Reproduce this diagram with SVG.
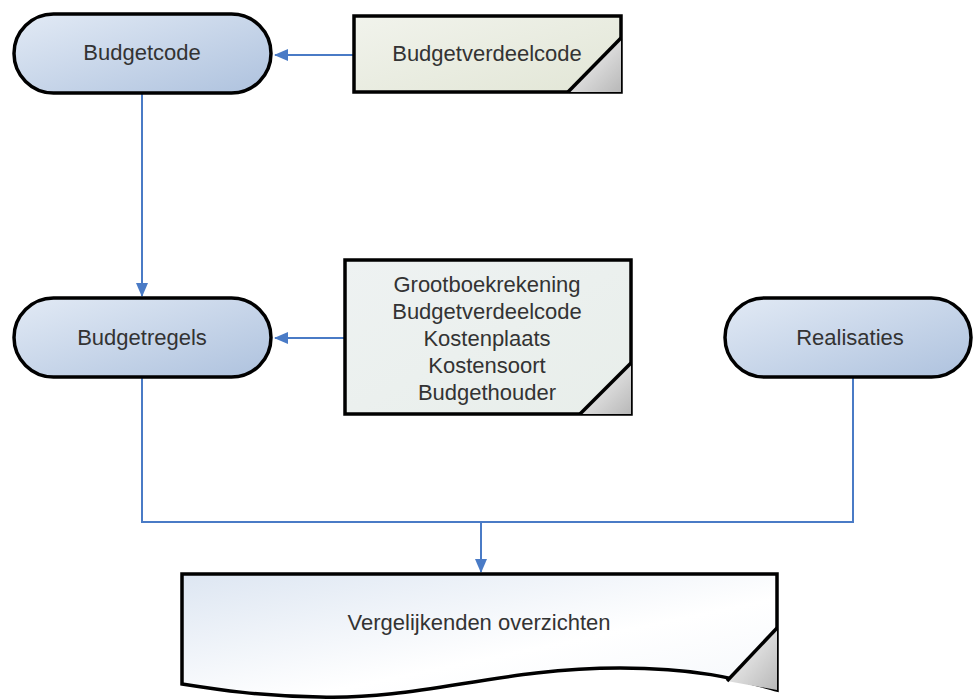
<svg xmlns="http://www.w3.org/2000/svg" width="973" height="700" viewBox="0 0 973 700">
<style>
.t{font-family:"Liberation Sans",Arial,sans-serif;font-size:22px;fill:#333;text-anchor:middle}
.sh{stroke:#000;stroke-width:3.5}
.c{fill:none;stroke:#4a7bc6;stroke-width:2}
.fold{fill:none;stroke:#000;stroke-width:3.5}
</style>
<defs>
<linearGradient id="gT" x1="0" y1="0" x2="1" y2="1">
<stop offset="0" stop-color="#e2eaf5"/><stop offset="1" stop-color="#aec2de"/>
</linearGradient>
<linearGradient id="gG" x1="0" y1="0" x2="1" y2="1">
<stop offset="0" stop-color="#f1f3ec"/><stop offset="1" stop-color="#e2e6d6"/>
</linearGradient>
<linearGradient id="gM" x1="0" y1="0" x2="1" y2="1">
<stop offset="0" stop-color="#eef2f2"/><stop offset="1" stop-color="#e8eeea"/>
</linearGradient>
<linearGradient id="gD" x1="0" y1="0" x2="1" y2="1">
<stop offset="0" stop-color="#dde6f2"/><stop offset="0.6" stop-color="#ffffff"/><stop offset="1" stop-color="#f4f7fb"/>
</linearGradient>
<linearGradient id="gF" x1="0" y1="0" x2="1" y2="1">
<stop offset="0" stop-color="#ffffff"/><stop offset="1" stop-color="#b8b8b8"/>
</linearGradient>
<marker id="ah" markerWidth="14" markerHeight="12" refX="13" refY="6" orient="auto" markerUnits="userSpaceOnUse">
<path d="M0,0 L14,6 L0,12 Z" fill="#4a7bc6"/>
</marker>
</defs>
<g id="connectors">
<path class="c" d="M354,55 L275,55" marker-end="url(#ah)"/>
<path class="c" d="M142,93 L142,296" marker-end="url(#ah)"/>
<path class="c" d="M345,338 L275,338" marker-end="url(#ah)"/>
<path class="c" d="M142,378 L142,522 L853,522 L853,378"/>
<path class="c" d="M481,522 L481,572" marker-end="url(#ah)"/>
</g>
<g id="budgetcode">
<rect x="14" y="14" width="257" height="79" rx="39.5" fill="url(#gT)" class="sh"/>
<text class="t" x="142" y="60">Budgetcode</text>
</g>
<g id="budgetverdeelcode">
<rect x="354" y="16" width="267" height="76" fill="url(#gG)" class="sh"/>
<path d="M568,92 L621,38 L621,92 Z" fill="url(#gF)"/>
<path class="fold" d="M568,92 L621,38"/>
<text class="t" x="487" y="61">Budgetverdeelcode</text>
</g>
<g id="budgetregels">
<rect x="14" y="298" width="257" height="79" rx="39.5" fill="url(#gT)" class="sh"/>
<text class="t" x="142" y="345">Budgetregels</text>
</g>
<g id="kenmerken">
<rect x="345" y="260" width="286" height="154" fill="url(#gM)" class="sh"/>
<path d="M580,414 L631,363 L631,414 Z" fill="url(#gF)"/>
<path class="fold" d="M580,414 L631,363"/>
<text class="t" x="487" y="292">Grootboekrekening</text>
<text class="t" x="487" y="319">Budgetverdeelcode</text>
<text class="t" x="487" y="346">Kostenplaats</text>
<text class="t" x="487" y="373">Kostensoort</text>
<text class="t" x="487" y="400">Budgethouder</text>
</g>
<g id="realisaties">
<rect x="725" y="298" width="246" height="79" rx="39.5" fill="url(#gT)" class="sh"/>
<text class="t" x="850" y="345">Realisaties</text>
</g>
<g id="overzichten">
<path d="M182,574 L777,574 L777,690 C740,680 700,668 620,668 C500,668 420,700 320,697 C260,696 220,690 182,684 Z" fill="url(#gD)" class="sh"/>
<path d="M727,681 L777,628 L777,690 Z" fill="url(#gF)"/>
<path class="fold" d="M727,681 L777,628"/>
<text class="t" x="479" y="630">Vergelijkenden overzichten</text>
</g>
</svg>
